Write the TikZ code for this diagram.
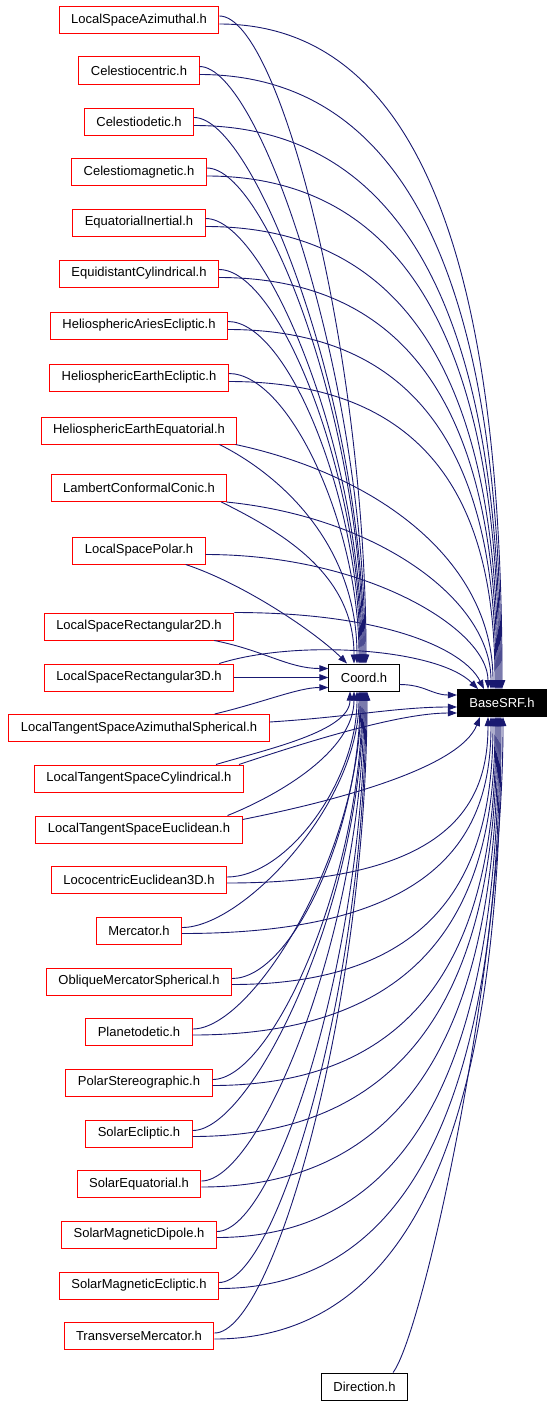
\documentclass[tikz,border=0pt]{standalone}
\usepackage{fontspec}
\setmainfont{Liberation Sans}
\usetikzlibrary{arrows.meta}
\definecolor{edgeblue}{HTML}{191970}
\tikzset{
  file/.style={draw=red, line width=1pt, fill=white, minimum height=27pt,
    inner xsep=12pt, inner ysep=0pt, font=\fontsize{13}{15}\selectfont},
  plainfile/.style={file, draw=black},
  target/.style={file, draw=black, fill=black, text=white},
  link/.style={->, draw=edgeblue, line width=0.9pt}
}

\begin{document}
\begin{tikzpicture}[x=1pt, y=-1pt, >={Triangle[length=9pt,width=6.5pt]}]
  \useasboundingbox (0,0) rectangle (552,1405);

  % Ziel und Zwischenstufe
  \node[target] (base) at (502,703) {BaseSRF.h};
  \node[plainfile] (coord) at (364,677.5) {Coord.h};
  \node[plainfile] (dir) at (364.5,1386.5) {Direction.h};

  % Quelldateien
  \node[file] (lsaz) at (139,20) {LocalSpaceAzimuthal.h};
  \node[file] (cc) at (139,70.5) {Celestiocentric.h};
  \node[file] (cd) at (139,121.5) {Celestiodetic.h};
  \node[file] (cm) at (139,172) {Celestiomagnetic.h};
  \node[file] (ei) at (139,222.5) {EquatorialInertial.h};
  \node[file] (ec) at (139,273.5) {EquidistantCylindrical.h};
  \node[file] (hae) at (139,325.5) {HeliosphericAriesEcliptic.h};
  \node[file] (hee) at (139,377.5) {HeliosphericEarthEcliptic.h};
  \node[file] (heq) at (139,430.5) {HeliosphericEarthEquatorial.h};
  \node[file] (lcc) at (139,488) {LambertConformalConic.h};
  \node[file] (lsp) at (139,550.5) {LocalSpacePolar.h};
  \node[file] (lsr2) at (139,626.5) {LocalSpaceRectangular2D.h};
  \node[file] (lsr3) at (139,677.5) {LocalSpaceRectangular3D.h};
  \node[file] (ltsas) at (139,728) {LocalTangentSpaceAzimuthalSpherical.h};
  \node[file] (ltsc) at (139,778.5) {LocalTangentSpaceCylindrical.h};
  \node[file] (ltse) at (139,829.5) {LocalTangentSpaceEuclidean.h};
  \node[file] (le3) at (139,880) {LococentricEuclidean3D.h};
  \node[file] (merc) at (139,930.5) {Mercator.h};
  \node[file] (oms) at (139,981.5) {ObliqueMercatorSpherical.h};
  \node[file] (pd) at (139,1032) {Planetodetic.h};
  \node[file] (ps) at (139,1082.5) {PolarStereographic.h};
  \node[file] (se) at (139,1133.5) {SolarEcliptic.h};
  \node[file] (seq) at (139,1184) {SolarEquatorial.h};
  \node[file] (smd) at (139,1234.5) {SolarMagneticDipole.h};
  \node[file] (sme) at (139,1285.5) {SolarMagneticEcliptic.h};
  \node[file] (tm) at (139,1336) {TransverseMercator.h};

  % obere Dateien -> Coord.h / BaseSRF.h
  \draw[link] ([yshift=4pt]lsaz.east) .. controls +(60,0) and +(0,-311) .. ([xshift=2pt]coord.north);
  \draw[link] ([yshift=-4pt]lsaz.east) .. controls +(234,0) and +(0,-333) .. (base.north);
  \draw[link] ([yshift=4pt]cc.east) .. controls +(60,0) and +(0,-287) .. ([xshift=1pt]coord.north);
  \draw[link] ([yshift=-4pt]cc.east) .. controls +(251,0) and +(0,-308) .. ([xshift=-1pt]base.north);
  \draw[link] ([yshift=4pt]cd.east) .. controls +(60,0) and +(0,-262) .. (coord.north);
  \draw[link] ([yshift=-4pt]cd.east) .. controls +(255,0) and +(0,-282) .. ([xshift=-2pt]base.north);
  \draw[link] ([yshift=4pt]cm.east) .. controls +(60,0) and +(0,-238) .. ([xshift=-1pt]coord.north);
  \draw[link] ([yshift=-4pt]cm.east) .. controls +(245,0) and +(0,-257) .. ([xshift=-3pt]base.north);
  \draw[link] ([yshift=4pt]ei.east) .. controls +(60,0) and +(0,-214) .. ([xshift=-2pt]coord.north);
  \draw[link] ([yshift=-4pt]ei.east) .. controls +(245,0) and +(0,-232) .. ([xshift=-4pt]base.north);
  \draw[link] ([yshift=4pt]ec.east) .. controls +(60,0) and +(0,-189) .. ([xshift=-3pt]coord.north);
  \draw[link] ([yshift=-4pt]ec.east) .. controls +(234,0) and +(0,-206) .. ([xshift=-5pt]base.north);
  \draw[link] ([yshift=4pt]hae.east) .. controls +(60,0) and +(0,-164) .. ([xshift=-4pt]coord.north);
  \draw[link] ([yshift=-4pt]hae.east) .. controls +(226,0) and +(0,-180) .. ([xshift=-6pt]base.north);
  \draw[link] ([yshift=4pt]hee.east) .. controls +(60,0) and +(0,-139) .. ([xshift=-5pt]coord.north);
  \draw[link] ([yshift=-4pt]hee.east) .. controls +(224,0) and +(0,-154) .. ([xshift=-7pt]base.north);
  \draw[link] ([xshift=-18pt]heq.south east) .. controls +(60,30) and +(0,-120) .. ([xshift=-7pt]coord.north);
  \draw[link] ([xshift=-2pt]heq.south east) .. controls +(140,30) and +(0,-130) .. ([xshift=-9pt]base.north);
  \draw[link] ([xshift=-6pt]lcc.south east) .. controls +(60,30) and +(0,-90) .. ([xshift=-10pt]coord.north);
  \draw[link] ([xshift=-1pt]lcc.south east) .. controls +(150,15) and +(0,-90) .. ([xshift=-11pt]base.north);
  \draw[link] ([xshift=-20pt]lsp.south east) .. controls +(60,20) and +(-30,-30) .. ([xshift=-17pt]coord.north);
  \draw[link] ([yshift=-4pt]lsp.east) .. controls +(160,0) and +(0,-60) .. ([xshift=-14pt]base.north);

  % mittlere Dateien
  \draw[link] ([xshift=-20pt]lsr2.south east) .. controls +(50,10) and +(-40,0) .. ([yshift=9pt]coord.west);
  \draw[link] (lsr2.north east) .. controls +(150,0) and +(-20,-40) .. ([xshift=-18pt]base.north);
  \draw[link] (lsr3.east) -- (coord.west);
  \draw[link] ([xshift=-15pt]lsr3.north east) .. controls +(80,-25) and +(-40,-40) .. ([xshift=-24pt]base.north);
  \draw[link] ([xshift=-55pt]ltsas.north east) .. controls +(50,-12) and +(-30,0) .. ([yshift=-10pt]coord.west);
  \draw[link] ([yshift=6pt]ltsas.east) .. controls +(80,-5) and +(-60,0) .. ([yshift=-4pt]base.west);
  \draw[link] ([xshift=-28pt]ltsc.north east) .. controls +(50,-15) and +(0,40) .. ([xshift=-14pt]coord.south);
  \draw[link] ([xshift=-5pt]ltsc.north east) .. controls +(60,-20) and +(-60,0) .. ([yshift=-10pt]base.west);
  \draw[link] ([xshift=-15pt]ltse.north east) .. controls +(50,-20) and +(0,60) .. ([xshift=-10pt]coord.south);
  \draw[link] ([yshift=-4pt]ltse.north east) .. controls +(100,-20) and +(-20,50) .. ([xshift=-22pt]base.south);

  % untere Dateien -> Coord.h / BaseSRF.h
  \draw[link] ([yshift=3pt]le3.east) .. controls +(60,0) and +(0,90) .. ([xshift=-7pt]coord.south);
  \draw[link] ([yshift=-3pt]le3.east) .. controls +(227,0) and +(0,84) .. ([xshift=-14pt]base.south);
  \draw[link] ([yshift=3pt]merc.east) .. controls +(60,0) and +(0,114) .. ([xshift=-5pt]coord.south);
  \draw[link] ([yshift=-3pt]merc.east) .. controls +(267,0) and +(0,109) .. ([xshift=-11pt]base.south);
  \draw[link] ([yshift=3pt]oms.east) .. controls +(60,0) and +(0,138) .. ([xshift=-4pt]coord.south);
  \draw[link] ([yshift=-3pt]oms.east) .. controls +(223,0) and +(0,134) .. ([xshift=-9pt]base.south);
  \draw[link] ([yshift=3pt]pd.east) .. controls +(60,0) and +(0,162) .. ([xshift=-3pt]coord.south);
  \draw[link] ([yshift=-3pt]pd.east) .. controls +(258,0) and +(0,160) .. ([xshift=-7pt]base.south);
  \draw[link] ([yshift=3pt]ps.east) .. controls +(60,0) and +(0,186) .. ([xshift=-2pt]coord.south);
  \draw[link] ([yshift=-3pt]ps.east) .. controls +(240,0) and +(0,185) .. ([xshift=-6pt]base.south);
  \draw[link] ([yshift=3pt]se.east) .. controls +(60,0) and +(0,211) .. ([xshift=-1pt]coord.south);
  \draw[link] ([yshift=-3pt]se.east) .. controls +(257,0) and +(0,210) .. ([xshift=-5pt]base.south);
  \draw[link] ([yshift=3pt]seq.east) .. controls +(60,0) and +(0,235) .. (coord.south);
  \draw[link] ([yshift=-3pt]seq.east) .. controls +(250,0) and +(0,236) .. ([xshift=-4pt]base.south);
  \draw[link] ([yshift=3pt]smd.east) .. controls +(60,0) and +(0,259) .. ([xshift=1pt]coord.south);
  \draw[link] ([yshift=-3pt]smd.east) .. controls +(236,0) and +(0,261) .. ([xshift=-3pt]base.south);
  \draw[link] ([yshift=3pt]sme.east) .. controls +(60,0) and +(0,284) .. ([xshift=2pt]coord.south);
  \draw[link] ([yshift=-3pt]sme.east) .. controls +(234,0) and +(0,286) .. ([xshift=-2pt]base.south);
  \draw[link] ([yshift=3pt]tm.east) .. controls +(60,0) and +(0,308) .. ([xshift=3pt]coord.south);
  \draw[link] ([yshift=-3pt]tm.east) .. controls +(238,0) and +(0,312) .. ([xshift=-1pt]base.south);

  % Coord.h und Direction.h -> BaseSRF.h
  \draw[link] ([yshift=-7pt]coord.east) .. controls +(25,0) and +(-25,0) .. ([yshift=8pt]base.west);
  \draw[link] ([xshift=-15pt]dir.north east) .. controls +(30,-40) and +(0,250) .. ([xshift=1pt]base.south);
\end{tikzpicture}
\end{document}
